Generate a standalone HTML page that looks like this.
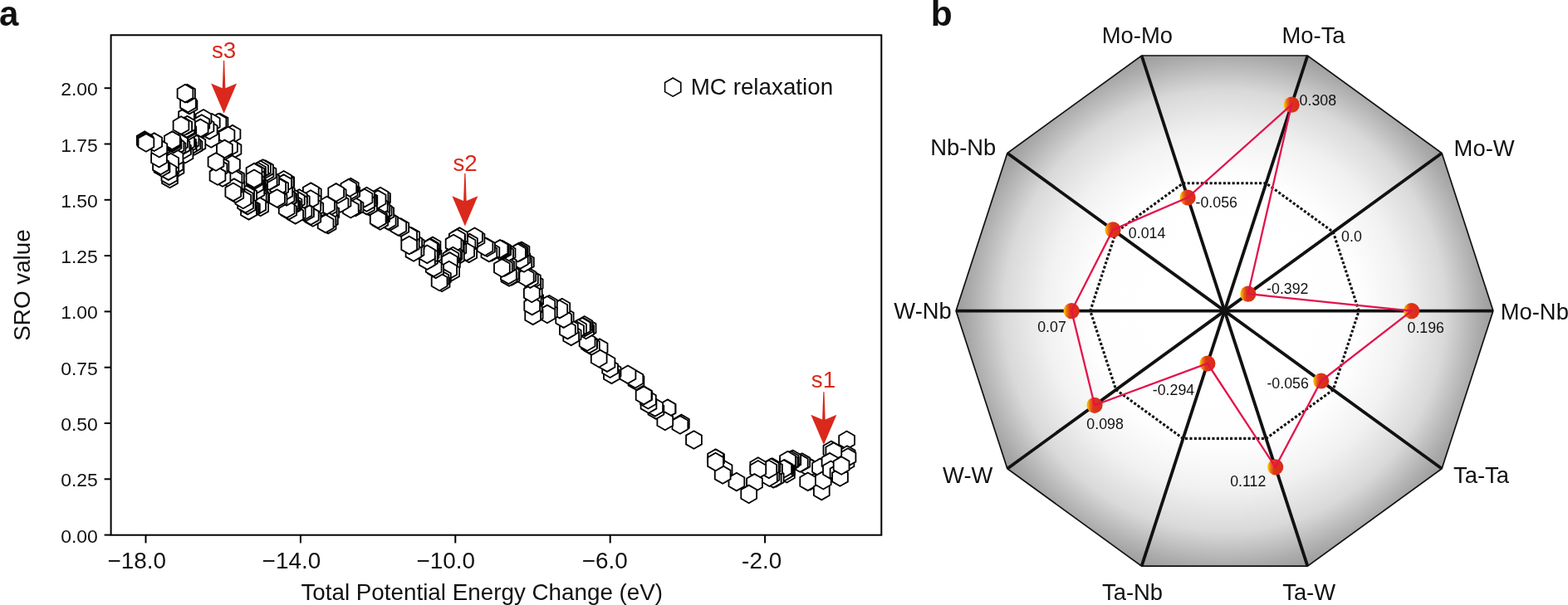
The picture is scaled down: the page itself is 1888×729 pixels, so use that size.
<!DOCTYPE html>
<html><head><meta charset="utf-8"><title>SRO figure</title><style>html,body{margin:0;padding:0;background:#fff;}body{width:1888px;height:729px;overflow:hidden;}svg{display:block;}</style></head><body>
<svg width="1888" height="729" viewBox="0 0 1888 729">
<defs>
<linearGradient id="ball" x1="0" y1="0" x2="1" y2="0"><stop offset="0" stop-color="#fcd200"/><stop offset="0.08" stop-color="#f6b008"/><stop offset="0.22" stop-color="#ea6e14"/><stop offset="0.4" stop-color="#dd3519"/><stop offset="1" stop-color="#da2a18"/></linearGradient>
<radialGradient id="rg" gradientUnits="userSpaceOnUse" cx="1474.5" cy="374.6" r="323.4"><stop offset="0" stop-color="#fff"/><stop offset="0.5" stop-color="#fefefe"/><stop offset="0.668" stop-color="#f1f1f1"/><stop offset="0.822" stop-color="#d9d9d9"/><stop offset="0.952" stop-color="#aaaaaa"/><stop offset="1" stop-color="#9c9c9c"/></radialGradient>
</defs>
<rect width="1888" height="729" fill="#fff"/>
<g font-family='"Liberation Sans", Arial, sans-serif' fill="#111">
<text x="-1.0" y="31" font-size="42" font-weight="bold">a</text>
<text x="1120.7" y="30.8" font-size="42.5" font-weight="bold">b</text>
</g>
<g fill="#fff" stroke="#000" stroke-width="1.80" stroke-linejoin="miter">
<polygon points="976.9,553.6 967.5,559.0 967.5,569.8 976.9,575.2 986.3,569.8 986.3,559.0"/>
<polygon points="975.7,568.5 966.3,573.9 966.3,584.7 975.7,590.1 985.1,584.7 985.1,573.9"/>
<polygon points="974.4,552.6 965.0,558.0 965.0,568.8 974.4,574.2 983.8,568.8 983.8,558.0"/>
<polygon points="972.7,569.5 963.3,574.9 963.3,585.7 972.7,591.1 982.1,585.7 982.1,574.9"/>
<polygon points="965.8,546.2 956.4,551.6 956.4,562.4 965.8,567.8 975.2,562.4 975.2,551.6"/>
<polygon points="963.3,547.2 953.9,552.6 953.9,563.4 963.3,568.8 972.7,563.4 972.7,552.6"/>
<polygon points="954.8,543.9 945.4,549.3 945.4,560.1 954.8,565.5 964.2,560.1 964.2,549.3"/>
<polygon points="954.7,542.5 945.3,547.9 945.3,558.7 954.7,564.1 964.1,558.7 964.1,547.9"/>
<polygon points="952.3,545.9 942.9,551.3 942.9,562.1 952.3,567.5 961.7,562.1 961.7,551.3"/>
<polygon points="952.2,543.5 942.8,548.9 942.8,559.7 952.2,565.1 961.6,559.7 961.6,548.9"/>
<polygon points="951.1,546.6 941.7,552.0 941.7,562.8 951.1,568.2 960.5,562.8 960.5,552.0"/>
<polygon points="951.0,545.8 941.6,551.2 941.6,562.0 951.0,567.4 960.4,562.0 960.4,551.2"/>
<polygon points="948.6,547.6 939.2,553.0 939.2,563.8 948.6,569.2 958.0,563.8 958.0,553.0"/>
<polygon points="948.5,543.8 939.1,549.2 939.1,560.0 948.5,565.4 957.9,560.0 957.9,549.2"/>
<polygon points="947.4,559.9 938.0,565.3 938.0,576.1 947.4,581.5 956.8,576.1 956.8,565.3"/>
<polygon points="947.3,556.1 937.9,561.5 937.9,572.3 947.3,577.7 956.7,572.3 956.7,561.5"/>
<polygon points="946.2,556.2 936.8,561.6 936.8,572.4 946.2,577.8 955.6,572.4 955.6,561.6"/>
<polygon points="944.8,554.1 935.4,559.5 935.4,570.3 944.8,575.7 954.2,570.3 954.2,559.5"/>
<polygon points="944.4,557.9 935.0,563.3 935.0,574.1 944.4,579.5 953.8,574.1 953.8,563.3"/>
<polygon points="943.7,554.2 934.3,559.6 934.3,570.4 943.7,575.8 953.1,570.4 953.1,559.6"/>
<polygon points="934.2,565.0 924.8,570.4 924.8,581.2 934.2,586.6 943.6,581.2 943.6,570.4"/>
<polygon points="932.5,554.4 923.1,559.8 923.1,570.6 932.5,576.0 941.9,570.6 941.9,559.8"/>
<polygon points="931.2,566.0 921.8,571.4 921.8,582.2 931.2,587.6 940.6,582.2 940.6,571.4"/>
<polygon points="930.0,552.4 920.6,557.8 920.6,568.6 930.0,574.0 939.4,568.6 939.4,557.8"/>
<polygon points="928.9,562.4 919.5,567.8 919.5,578.6 928.9,584.0 938.3,578.6 938.3,567.8"/>
<polygon points="928.3,552.5 918.9,557.9 918.9,568.7 928.3,574.1 937.7,568.7 937.7,557.9"/>
<polygon points="926.4,564.4 917.0,569.8 917.0,580.6 926.4,586.0 935.8,580.6 935.8,569.8"/>
<polygon points="925.8,554.5 916.4,559.9 916.4,570.7 925.8,576.1 935.2,570.7 935.2,559.9"/>
<polygon points="912.8,551.3 903.4,556.7 903.4,567.5 912.8,572.9 922.2,567.5 922.2,556.7"/>
<polygon points="912.8,555.0 903.4,560.4 903.4,571.2 912.8,576.6 922.2,571.2 922.2,560.4"/>
<polygon points="908.5,571.1 899.1,576.5 899.1,587.3 908.5,592.7 917.9,587.3 917.9,576.5"/>
<polygon points="901.7,584.6 892.3,590.0 892.3,600.8 901.7,606.2 911.1,600.8 911.1,590.0"/>
<polygon points="886.9,569.8 877.5,575.2 877.5,586.0 886.9,591.4 896.3,586.0 896.3,575.2"/>
<polygon points="872.1,555.0 862.7,560.4 862.7,571.2 872.1,576.6 881.5,571.2 881.5,560.4"/>
<polygon points="870.2,561.2 860.8,566.6 860.8,577.4 870.2,582.8 879.6,577.4 879.6,566.6"/>
<polygon points="862.6,541.8 853.2,547.2 853.2,558.0 862.6,563.4 872.0,558.0 872.0,547.2"/>
<polygon points="861.6,541.4 852.2,546.8 852.2,557.6 861.6,563.0 871.0,557.6 871.0,546.8"/>
<polygon points="861.6,545.7 852.2,551.1 852.2,561.9 861.6,567.3 871.0,561.9 871.0,551.1"/>
<polygon points="835.5,519.2 826.1,524.6 826.1,535.4 835.5,540.8 844.9,535.4 844.9,524.6"/>
<polygon points="820.4,499.6 811.0,505.0 811.0,515.8 820.4,521.2 829.8,515.8 829.8,505.0"/>
<polygon points="818.9,501.1 809.5,506.5 809.5,517.3 818.9,522.7 828.3,517.3 828.3,506.5"/>
<polygon points="804.1,481.5 794.7,486.9 794.7,497.7 804.1,503.1 813.5,497.7 813.5,486.9"/>
<polygon points="803.8,481.5 794.4,486.9 794.4,497.7 803.8,503.1 813.2,497.7 813.2,486.9"/>
<polygon points="800.8,496.6 791.4,502.0 791.4,512.8 800.8,518.2 810.2,512.8 810.2,502.0"/>
<polygon points="789.9,483.3 780.5,488.7 780.5,499.5 789.9,504.9 799.3,499.5 799.3,488.7"/>
<polygon points="788.7,480.0 779.3,485.4 779.3,496.2 788.7,501.6 798.1,496.2 798.1,485.4"/>
<polygon points="781.0,476.2 771.6,481.6 771.6,492.4 781.0,497.8 790.4,492.4 790.4,481.6"/>
<polygon points="780.4,470.9 771.0,476.3 771.0,487.1 780.4,492.5 789.8,487.1 789.8,476.3"/>
<polygon points="775.6,465.5 766.2,470.9 766.2,481.7 775.6,487.1 785.0,481.7 785.0,470.9"/>
<polygon points="775.1,465.6 765.7,471.0 765.7,481.8 775.1,487.2 784.5,481.8 784.5,471.0"/>
<polygon points="766.0,448.2 756.6,453.6 756.6,464.4 766.0,469.8 775.4,464.4 775.4,453.6"/>
<polygon points="764.9,445.9 755.5,451.3 755.5,462.1 764.9,467.5 774.3,462.1 774.3,451.3"/>
<polygon points="756.0,440.5 746.6,445.9 746.6,456.7 756.0,462.1 765.4,456.7 765.4,445.9"/>
<polygon points="738.1,437.0 728.7,442.4 728.7,453.2 738.1,458.6 747.5,453.2 747.5,442.4"/>
<polygon points="736.4,440.5 727.0,445.9 727.0,456.7 736.4,462.1 745.8,456.7 745.8,445.9"/>
<polygon points="734.6,433.4 725.2,438.8 725.2,449.6 734.6,455.0 744.0,449.6 744.0,438.8"/>
<polygon points="731.0,426.3 721.6,431.7 721.6,442.5 731.0,447.9 740.4,442.5 740.4,431.7"/>
<polygon points="722.1,408.4 712.7,413.8 712.7,424.6 722.1,430.0 731.5,424.6 731.5,413.8"/>
<polygon points="721.2,420.9 711.8,426.3 711.8,437.1 721.2,442.5 730.6,437.1 730.6,426.3"/>
<polygon points="712.4,406.0 703.0,411.4 703.0,422.2 712.4,427.6 721.8,422.2 721.8,411.4"/>
<polygon points="709.6,403.1 700.2,408.5 700.2,419.3 709.6,424.7 719.0,419.3 719.0,408.5"/>
<polygon points="709.4,404.0 700.0,409.4 700.0,420.2 709.4,425.6 718.8,420.2 718.8,409.4"/>
<polygon points="708.1,384.7 698.7,390.1 698.7,400.9 708.1,406.3 717.5,400.9 717.5,390.1"/>
<polygon points="707.1,401.1 697.7,406.5 697.7,417.3 707.1,422.7 716.5,417.3 716.5,406.5"/>
<polygon points="705.6,386.7 696.2,392.1 696.2,402.9 705.6,408.3 715.0,402.9 715.0,392.1"/>
<polygon points="704.3,383.5 694.9,388.9 694.9,399.7 704.3,405.1 713.7,399.7 713.7,388.9"/>
<polygon points="703.7,381.0 694.3,386.4 694.3,397.2 703.7,402.6 713.1,397.2 713.1,386.4"/>
<polygon points="701.8,382.5 692.4,387.9 692.4,398.7 701.8,404.1 711.2,398.7 711.2,387.9"/>
<polygon points="701.2,383.0 691.8,388.4 691.8,399.2 701.2,404.6 710.6,399.2 710.6,388.4"/>
<polygon points="696.6,385.0 687.2,390.4 687.2,401.2 696.6,406.6 706.0,401.2 706.0,390.4"/>
<polygon points="693.6,387.0 684.2,392.4 684.2,403.2 693.6,408.6 703.0,403.2 703.0,392.4"/>
<polygon points="690.2,392.5 680.8,397.9 680.8,408.7 690.2,414.1 699.6,408.7 699.6,397.9"/>
<polygon points="687.7,394.5 678.3,399.9 678.3,410.7 687.7,416.1 697.1,410.7 697.1,399.9"/>
<polygon points="686.4,384.8 677.0,390.2 677.0,401.0 686.4,406.4 695.8,401.0 695.8,390.2"/>
<polygon points="683.4,386.8 674.0,392.2 674.0,403.0 683.4,408.4 692.8,403.0 692.8,392.2"/>
<polygon points="681.2,371.3 671.8,376.7 671.8,387.5 681.2,392.9 690.6,387.5 690.6,376.7"/>
<polygon points="678.7,373.3 669.3,378.7 669.3,389.5 678.7,394.9 688.1,389.5 688.1,378.7"/>
<polygon points="676.8,359.8 667.4,365.2 667.4,376.0 676.8,381.4 686.2,376.0 686.2,365.2"/>
<polygon points="673.8,361.8 664.4,367.2 664.4,378.0 673.8,383.4 683.2,378.0 683.2,367.2"/>
<polygon points="661.4,356.0 652.0,361.4 652.0,372.2 661.4,377.6 670.8,372.2 670.8,361.4"/>
<polygon points="661.4,365.6 652.0,371.0 652.0,381.8 661.4,387.2 670.8,381.8 670.8,371.0"/>
<polygon points="658.9,357.0 649.5,362.4 649.5,373.2 658.9,378.6 668.3,373.2 668.3,362.4"/>
<polygon points="658.9,367.6 649.5,373.0 649.5,383.8 658.9,389.2 668.3,383.8 668.3,373.0"/>
<polygon points="644.7,350.2 635.3,355.6 635.3,366.4 644.7,371.8 654.1,366.4 654.1,355.6"/>
<polygon points="644.2,331.0 634.8,336.4 634.8,347.2 644.2,352.6 653.6,347.2 653.6,336.4"/>
<polygon points="644.2,367.5 634.8,372.9 634.8,383.7 644.2,389.1 653.6,383.7 653.6,372.9"/>
<polygon points="643.3,343.6 633.9,349.0 633.9,359.8 643.3,365.2 652.7,359.8 652.7,349.0"/>
<polygon points="643.2,359.8 633.8,365.2 633.8,376.0 643.2,381.4 652.6,376.0 652.6,365.2"/>
<polygon points="642.2,352.2 632.8,357.6 632.8,368.4 642.2,373.8 651.6,368.4 651.6,357.6"/>
<polygon points="641.7,332.0 632.3,337.4 632.3,348.2 641.7,353.6 651.1,348.2 651.1,337.4"/>
<polygon points="641.7,369.5 632.3,374.9 632.3,385.7 641.7,391.1 651.1,385.7 651.1,374.9"/>
<polygon points="641.4,326.3 632.0,331.7 632.0,342.5 641.4,347.9 650.8,342.5 650.8,331.7"/>
<polygon points="640.7,357.8 631.3,363.2 631.3,374.0 640.7,379.4 650.1,374.0 650.1,363.2"/>
<polygon points="640.3,342.6 630.9,348.0 630.9,358.8 640.3,364.2 649.7,358.8 649.7,348.0"/>
<polygon points="638.4,325.3 629.0,330.7 629.0,341.5 638.4,346.9 647.8,341.5 647.8,330.7"/>
<polygon points="635.8,322.4 626.4,327.8 626.4,338.6 635.8,344.0 645.2,338.6 645.2,327.8"/>
<polygon points="633.4,305.1 624.0,310.5 624.0,321.3 633.4,326.7 642.8,321.3 642.8,310.5"/>
<polygon points="633.3,323.4 623.9,328.8 623.9,339.6 633.3,345.0 642.7,339.6 642.7,328.8"/>
<polygon points="630.9,306.1 621.5,311.5 621.5,322.3 630.9,327.7 640.3,322.3 640.3,311.5"/>
<polygon points="628.8,300.3 619.4,305.7 619.4,316.5 628.8,321.9 638.2,316.5 638.2,305.7"/>
<polygon points="628.0,291.6 618.6,297.0 618.6,307.8 628.0,313.2 637.4,307.8 637.4,297.0"/>
<polygon points="626.3,302.3 616.9,307.7 616.9,318.5 626.3,323.9 635.7,318.5 635.7,307.7"/>
<polygon points="626.0,292.8 616.6,298.2 616.6,309.0 626.0,314.4 635.4,309.0 635.4,298.2"/>
<polygon points="625.0,292.6 615.6,298.0 615.6,308.8 625.0,314.2 634.4,308.8 634.4,298.0"/>
<polygon points="623.5,293.8 614.1,299.2 614.1,310.0 623.5,315.4 632.9,310.0 632.9,299.2"/>
<polygon points="616.0,322.2 606.6,327.6 606.6,338.4 616.0,343.8 625.4,338.4 625.4,327.6"/>
<polygon points="615.4,319.5 606.0,324.9 606.0,335.7 615.4,341.1 624.8,335.7 624.8,324.9"/>
<polygon points="613.0,323.2 603.6,328.6 603.6,339.4 613.0,344.8 622.4,339.4 622.4,328.6"/>
<polygon points="612.4,320.5 603.0,325.9 603.0,336.7 612.4,342.1 621.8,336.7 621.8,325.9"/>
<polygon points="612.1,307.9 602.7,313.3 602.7,324.1 612.1,329.5 621.5,324.1 621.5,313.3"/>
<polygon points="611.1,294.0 601.7,299.4 601.7,310.2 611.1,315.6 620.5,310.2 620.5,299.4"/>
<polygon points="609.6,309.9 600.2,315.3 600.2,326.1 609.6,331.5 619.0,326.1 619.0,315.3"/>
<polygon points="608.6,295.0 599.2,300.4 599.2,311.2 608.6,316.6 618.0,311.2 618.0,300.4"/>
<polygon points="607.4,311.1 598.0,316.5 598.0,327.3 607.4,332.7 616.8,327.3 616.8,316.5"/>
<polygon points="605.8,290.7 596.4,296.1 596.4,306.9 605.8,312.3 615.2,306.9 615.2,296.1"/>
<polygon points="605.0,290.1 595.6,295.5 595.6,306.3 605.0,311.7 614.4,306.3 614.4,295.5"/>
<polygon points="604.4,312.1 595.0,317.5 595.0,328.3 604.4,333.7 613.8,328.3 613.8,317.5"/>
<polygon points="603.3,289.7 593.9,295.1 593.9,305.9 603.3,311.3 612.7,305.9 612.7,295.1"/>
<polygon points="602.0,289.1 592.6,294.5 592.6,305.3 602.0,310.7 611.4,305.3 611.4,294.5"/>
<polygon points="591.9,292.8 582.5,298.2 582.5,309.0 591.9,314.4 601.3,309.0 601.3,298.2"/>
<polygon points="588.9,293.8 579.5,299.2 579.5,310.0 588.9,315.4 598.3,310.0 598.3,299.2"/>
<polygon points="586.5,287.4 577.1,292.8 577.1,303.6 586.5,309.0 595.9,303.6 595.9,292.8"/>
<polygon points="584.0,286.4 574.6,291.8 574.6,302.6 584.0,308.0 593.4,302.6 593.4,291.8"/>
<polygon points="574.0,276.5 564.6,281.9 564.6,292.7 574.0,298.1 583.4,292.7 583.4,281.9"/>
<polygon points="571.5,274.5 562.1,279.9 562.1,290.7 571.5,296.1 580.9,290.7 580.9,279.9"/>
<polygon points="565.5,281.9 556.1,287.3 556.1,298.1 565.5,303.5 574.9,298.1 574.9,287.3"/>
<polygon points="564.7,294.5 555.3,299.9 555.3,310.7 564.7,316.1 574.1,310.7 574.1,299.9"/>
<polygon points="563.0,283.9 553.6,289.3 553.6,300.1 563.0,305.5 572.4,300.1 572.4,289.3"/>
<polygon points="561.7,292.5 552.3,297.9 552.3,308.7 561.7,314.1 571.1,308.7 571.1,297.9"/>
<polygon points="553.6,276.7 544.2,282.1 544.2,292.9 553.6,298.3 563.0,292.9 563.0,282.1"/>
<polygon points="553.3,274.4 543.9,279.8 543.9,290.6 553.3,296.0 562.7,290.6 562.7,279.8"/>
<polygon points="551.9,288.6 542.5,294.0 542.5,304.8 551.9,310.2 561.3,304.8 561.3,294.0"/>
<polygon points="550.6,277.7 541.2,283.1 541.2,293.9 550.6,299.3 560.0,293.9 560.0,283.1"/>
<polygon points="550.3,276.4 540.9,281.8 540.9,292.6 550.3,298.0 559.7,292.6 559.7,281.8"/>
<polygon points="549.4,287.6 540.0,293.0 540.0,303.8 549.4,309.2 558.8,303.8 558.8,293.0"/>
<polygon points="549.4,298.2 540.0,303.6 540.0,314.4 549.4,319.8 558.8,314.4 558.8,303.6"/>
<polygon points="548.6,284.7 539.2,290.1 539.2,300.9 548.6,306.3 558.0,300.9 558.0,290.1"/>
<polygon points="546.9,296.2 537.5,301.6 537.5,312.4 546.9,317.8 556.3,312.4 556.3,301.6"/>
<polygon points="546.1,282.7 536.7,288.1 536.7,298.9 546.1,304.3 555.5,298.9 555.5,288.1"/>
<polygon points="545.4,297.8 536.0,303.2 536.0,314.0 545.4,319.4 554.8,314.0 554.8,303.2"/>
<polygon points="544.4,306.1 535.0,311.5 535.0,322.3 544.4,327.7 553.8,322.3 553.8,311.5"/>
<polygon points="543.7,316.8 534.3,322.2 534.3,333.0 543.7,338.4 553.1,333.0 553.1,322.2"/>
<polygon points="542.9,299.8 533.5,305.2 533.5,316.0 542.9,321.4 552.3,316.0 552.3,305.2"/>
<polygon points="541.4,304.1 532.0,309.5 532.0,320.3 541.4,325.7 550.8,320.3 550.8,309.5"/>
<polygon points="540.7,314.8 531.3,320.2 531.3,331.0 540.7,336.4 550.1,331.0 550.1,320.2"/>
<polygon points="533.4,323.9 524.0,329.3 524.0,340.1 533.4,345.5 542.8,340.1 542.8,329.3"/>
<polygon points="532.1,329.6 522.7,335.0 522.7,345.8 532.1,351.2 541.5,345.8 541.5,335.0"/>
<polygon points="530.9,325.9 521.5,331.3 521.5,342.1 530.9,347.5 540.3,342.1 540.3,331.3"/>
<polygon points="529.1,328.6 519.7,334.0 519.7,344.8 529.1,350.2 538.5,344.8 538.5,334.0"/>
<polygon points="524.7,313.5 515.3,318.9 515.3,329.7 524.7,335.1 534.1,329.7 534.1,318.9"/>
<polygon points="522.2,311.5 512.8,316.9 512.8,327.7 522.2,333.1 531.6,327.7 531.6,316.9"/>
<polygon points="522.0,296.6 512.6,302.0 512.6,312.8 522.0,318.2 531.4,312.8 531.4,302.0"/>
<polygon points="521.0,285.6 511.6,291.0 511.6,301.8 521.0,307.2 530.4,301.8 530.4,291.0"/>
<polygon points="520.4,290.0 511.0,295.4 511.0,306.2 520.4,311.6 529.8,306.2 529.8,295.4"/>
<polygon points="519.0,294.6 509.6,300.0 509.6,310.8 519.0,316.2 528.4,310.8 528.4,300.0"/>
<polygon points="518.5,287.6 509.1,293.0 509.1,303.8 518.5,309.2 527.9,303.8 527.9,293.0"/>
<polygon points="517.4,288.0 508.0,293.4 508.0,304.2 517.4,309.6 526.8,304.2 526.8,293.4"/>
<polygon points="517.4,301.2 508.0,306.6 508.0,317.4 517.4,322.8 526.8,317.4 526.8,306.6"/>
<polygon points="517.3,297.5 507.9,302.9 507.9,313.7 517.3,319.1 526.7,313.7 526.7,302.9"/>
<polygon points="514.4,303.2 505.0,308.6 505.0,319.4 514.4,324.8 523.8,319.4 523.8,308.6"/>
<polygon points="514.3,295.5 504.9,300.9 504.9,311.7 514.3,317.1 523.7,311.7 523.7,300.9"/>
<polygon points="501.2,283.9 491.8,289.3 491.8,300.1 501.2,305.5 510.6,300.1 510.6,289.3"/>
<polygon points="501.0,291.2 491.6,296.6 491.6,307.4 501.0,312.8 510.4,307.4 510.4,296.6"/>
<polygon points="498.7,281.9 489.3,287.3 489.3,298.1 498.7,303.5 508.1,298.1 508.1,287.3"/>
<polygon points="498.0,293.2 488.6,298.6 488.6,309.4 498.0,314.8 507.4,309.4 507.4,298.6"/>
<polygon points="495.7,274.2 486.3,279.6 486.3,290.4 495.7,295.8 505.1,290.4 505.1,279.6"/>
<polygon points="495.2,283.7 485.8,289.1 485.8,299.9 495.2,305.3 504.6,299.9 504.6,289.1"/>
<polygon points="492.7,273.2 483.3,278.6 483.3,289.4 492.7,294.8 502.1,289.4 502.1,278.6"/>
<polygon points="492.7,284.7 483.3,290.1 483.3,300.9 492.7,306.3 502.1,300.9 502.1,290.1"/>
<polygon points="482.8,263.3 473.4,268.7 473.4,279.5 482.8,284.9 492.2,279.5 492.2,268.7"/>
<polygon points="479.8,262.3 470.4,267.7 470.4,278.5 479.8,283.9 489.2,278.5 489.2,267.7"/>
<polygon points="469.7,256.0 460.3,261.4 460.3,272.2 469.7,277.6 479.1,272.2 479.1,261.4"/>
<polygon points="467.2,255.0 457.8,260.4 457.8,271.2 467.2,276.6 476.6,271.2 476.6,260.4"/>
<polygon points="464.7,245.2 455.3,250.6 455.3,261.4 464.7,266.8 474.1,261.4 474.1,250.6"/>
<polygon points="462.2,243.2 452.8,248.6 452.8,259.4 462.2,264.8 471.6,259.4 471.6,248.6"/>
<polygon points="460.5,227.8 451.1,233.2 451.1,244.0 460.5,249.4 469.9,244.0 469.9,233.2"/>
<polygon points="459.8,238.6 450.4,244.0 450.4,254.8 459.8,260.2 469.2,254.8 469.2,244.0"/>
<polygon points="459.5,250.8 450.1,256.2 450.1,267.0 459.5,272.4 468.9,267.0 468.9,256.2"/>
<polygon points="458.1,230.4 448.7,235.8 448.7,246.6 458.1,252.0 467.5,246.6 467.5,235.8"/>
<polygon points="458.0,225.8 448.6,231.2 448.6,242.0 458.0,247.4 467.4,242.0 467.4,231.2"/>
<polygon points="457.7,255.2 448.3,260.6 448.3,271.4 457.7,276.8 467.1,271.4 467.1,260.6"/>
<polygon points="457.3,237.6 447.9,243.0 447.9,253.8 457.3,259.2 466.7,253.8 466.7,243.0"/>
<polygon points="456.5,251.8 447.1,257.2 447.1,268.0 456.5,273.4 465.9,268.0 465.9,257.2"/>
<polygon points="455.2,253.2 445.8,258.6 445.8,269.4 455.2,274.8 464.6,269.4 464.6,258.6"/>
<polygon points="455.1,229.4 445.7,234.8 445.7,245.6 455.1,251.0 464.5,245.6 464.5,234.8"/>
<polygon points="444.9,230.4 435.5,235.8 435.5,246.6 444.9,252.0 454.3,246.6 454.3,235.8"/>
<polygon points="444.5,237.8 435.1,243.2 435.1,254.0 444.5,259.4 453.9,254.0 453.9,243.2"/>
<polygon points="444.0,231.2 434.6,236.6 434.6,247.4 444.0,252.8 453.4,247.4 453.4,236.6"/>
<polygon points="442.4,229.4 433.0,234.8 433.0,245.6 442.4,251.0 451.8,245.6 451.8,234.8"/>
<polygon points="441.5,225.8 432.1,231.2 432.1,242.0 441.5,247.4 450.9,242.0 450.9,231.2"/>
<polygon points="441.5,236.8 432.1,242.2 432.1,253.0 441.5,258.4 450.9,253.0 450.9,242.2"/>
<polygon points="441.5,233.2 432.1,238.6 432.1,249.4 441.5,254.8 450.9,249.4 450.9,238.6"/>
<polygon points="439.0,227.8 429.6,233.2 429.6,244.0 439.0,249.4 448.4,244.0 448.4,233.2"/>
<polygon points="428.0,238.8 418.6,244.2 418.6,255.0 428.0,260.4 437.4,255.0 437.4,244.2"/>
<polygon points="425.3,238.9 415.9,244.3 415.9,255.1 425.3,260.5 434.7,255.1 434.7,244.3"/>
<polygon points="425.0,236.8 415.6,242.2 415.6,253.0 425.0,258.4 434.4,253.0 434.4,242.2"/>
<polygon points="423.7,220.4 414.3,225.8 414.3,236.6 423.7,242.0 433.1,236.6 433.1,225.8"/>
<polygon points="422.3,214.9 412.9,220.3 412.9,231.1 422.3,236.5 431.7,231.1 431.7,220.3"/>
<polygon points="422.3,240.9 412.9,246.3 412.9,257.1 422.3,262.5 431.7,257.1 431.7,246.3"/>
<polygon points="421.2,219.4 411.8,224.8 411.8,235.6 421.2,241.0 430.6,235.6 430.6,224.8"/>
<polygon points="419.8,215.9 410.4,221.3 410.4,232.1 419.8,237.5 429.2,232.1 429.2,221.3"/>
<polygon points="413.0,232.1 403.6,237.5 403.6,248.3 413.0,253.7 422.4,248.3 422.4,237.5"/>
<polygon points="410.0,234.1 400.6,239.5 400.6,250.3 410.0,255.7 419.4,250.3 419.4,239.5"/>
<polygon points="407.2,223.1 397.8,228.5 397.8,239.3 407.2,244.7 416.6,239.3 416.6,228.5"/>
<polygon points="404.7,221.1 395.3,226.5 395.3,237.3 404.7,242.7 414.1,237.3 414.1,226.5"/>
<polygon points="398.7,245.7 389.3,251.1 389.3,261.9 398.7,267.3 408.1,261.9 408.1,251.1"/>
<polygon points="397.4,254.0 388.0,259.4 388.0,270.2 397.4,275.6 406.8,270.2 406.8,259.4"/>
<polygon points="396.2,243.7 386.8,249.1 386.8,259.9 396.2,265.3 405.6,259.9 405.6,249.1"/>
<polygon points="396.0,238.8 386.6,244.2 386.6,255.0 396.0,260.4 405.4,255.0 405.4,244.2"/>
<polygon points="395.1,259.8 385.7,265.2 385.7,276.0 395.1,281.4 404.5,276.0 404.5,265.2"/>
<polygon points="394.9,256.0 385.5,261.4 385.5,272.2 394.9,277.6 404.3,272.2 404.3,261.4"/>
<polygon points="393.5,236.8 384.1,242.2 384.1,253.0 393.5,258.4 402.9,253.0 402.9,242.2"/>
<polygon points="392.1,258.8 382.7,264.2 382.7,275.0 392.1,280.4 401.5,275.0 401.5,264.2"/>
<polygon points="379.8,239.6 370.4,245.0 370.4,255.8 379.8,261.2 389.2,255.8 389.2,245.0"/>
<polygon points="377.3,222.4 367.9,227.8 367.9,238.6 377.3,244.0 386.7,238.6 386.7,227.8"/>
<polygon points="377.0,231.3 367.6,236.7 367.6,247.5 377.0,252.9 386.4,247.5 386.4,236.7"/>
<polygon points="376.8,251.2 367.4,256.6 367.4,267.4 376.8,272.8 386.2,267.4 386.2,256.6"/>
<polygon points="376.8,237.6 367.4,243.0 367.4,253.8 376.8,259.2 386.2,253.8 386.2,243.0"/>
<polygon points="374.3,220.4 364.9,225.8 364.9,236.6 374.3,242.0 383.7,236.6 383.7,225.8"/>
<polygon points="374.3,249.2 364.9,254.6 364.9,265.4 374.3,270.8 383.7,265.4 383.7,254.6"/>
<polygon points="374.0,229.3 364.6,234.7 364.6,245.5 374.0,250.9 383.4,245.5 383.4,234.7"/>
<polygon points="368.5,244.7 359.1,250.1 359.1,260.9 368.5,266.3 377.9,260.9 377.9,250.1"/>
<polygon points="366.0,243.7 356.6,249.1 356.6,259.9 366.0,265.3 375.4,259.9 375.4,249.1"/>
<polygon points="363.3,231.3 353.9,236.7 353.9,247.5 363.3,252.9 372.7,247.5 372.7,236.7"/>
<polygon points="360.3,228.2 350.9,233.6 350.9,244.4 360.3,249.8 369.7,244.4 369.7,233.6"/>
<polygon points="360.3,232.3 350.9,237.7 350.9,248.5 360.3,253.9 369.7,248.5 369.7,237.7"/>
<polygon points="358.2,246.0 348.8,251.4 348.8,262.2 358.2,267.6 367.6,262.2 367.6,251.4"/>
<polygon points="357.3,230.2 347.9,235.6 347.9,246.4 357.3,251.8 366.7,246.4 366.7,235.6"/>
<polygon points="355.7,248.0 346.3,253.4 346.3,264.2 355.7,269.6 365.1,264.2 365.1,253.4"/>
<polygon points="354.0,234.8 344.6,240.2 344.6,251.0 354.0,256.4 363.4,251.0 363.4,240.2"/>
<polygon points="352.3,237.2 342.9,242.6 342.9,253.4 352.3,258.8 361.7,253.4 361.7,242.6"/>
<polygon points="351.0,236.8 341.6,242.2 341.6,253.0 351.0,258.4 360.4,253.0 360.4,242.2"/>
<polygon points="349.8,235.2 340.4,240.6 340.4,251.4 349.8,256.8 359.2,251.4 359.2,240.6"/>
<polygon points="349.6,225.8 340.2,231.2 340.2,242.0 349.6,247.4 359.0,242.0 359.0,231.2"/>
<polygon points="347.7,243.0 338.3,248.4 338.3,259.2 347.7,264.6 357.1,259.2 357.1,248.4"/>
<polygon points="347.5,228.2 338.1,233.6 338.1,244.4 347.5,249.8 356.9,244.4 356.9,233.6"/>
<polygon points="347.1,227.8 337.7,233.2 337.7,244.0 347.1,249.4 356.5,244.0 356.5,233.2"/>
<polygon points="345.2,221.2 335.8,226.6 335.8,237.4 345.2,242.8 354.6,237.4 354.6,226.6"/>
<polygon points="345.2,241.0 335.8,246.4 335.8,257.2 345.2,262.6 354.6,257.2 354.6,246.4"/>
<polygon points="345.0,226.2 335.6,231.6 335.6,242.4 345.0,247.8 354.4,242.4 354.4,231.6"/>
<polygon points="344.7,208.0 335.3,213.4 335.3,224.2 344.7,229.6 354.1,224.2 354.1,213.4"/>
<polygon points="344.1,209.4 334.7,214.8 334.7,225.6 344.1,231.0 353.5,225.6 353.5,214.8"/>
<polygon points="342.7,220.2 333.3,225.6 333.3,236.4 342.7,241.8 352.1,236.4 352.1,225.6"/>
<polygon points="341.7,206.0 332.3,211.4 332.3,222.2 341.7,227.6 351.1,222.2 351.1,211.4"/>
<polygon points="341.6,210.4 332.2,215.8 332.2,226.6 341.6,232.0 351.0,226.6 351.0,215.8"/>
<polygon points="337.7,215.2 328.3,220.6 328.3,231.4 337.7,236.8 347.1,231.4 347.1,220.6"/>
<polygon points="336.0,229.2 326.6,234.6 326.6,245.4 336.0,250.8 345.4,245.4 345.4,234.6"/>
<polygon points="334.7,214.2 325.3,219.6 325.3,230.4 334.7,235.8 344.1,230.4 344.1,219.6"/>
<polygon points="333.5,228.2 324.1,233.6 324.1,244.4 333.5,249.8 342.9,244.4 342.9,233.6"/>
<polygon points="326.7,206.2 317.3,211.6 317.3,222.4 326.7,227.8 336.1,222.4 336.1,211.6"/>
<polygon points="324.2,207.2 314.8,212.6 314.8,223.4 324.2,228.8 333.6,223.4 333.6,212.6"/>
<polygon points="323.0,197.9 313.6,203.3 313.6,214.1 323.0,219.5 332.4,214.1 332.4,203.3"/>
<polygon points="320.0,196.9 310.6,202.3 310.6,213.1 320.0,218.5 329.4,213.1 329.4,202.3"/>
<polygon points="319.5,193.2 310.1,198.6 310.1,209.4 319.5,214.8 328.9,209.4 328.9,198.6"/>
<polygon points="316.5,192.2 307.1,197.6 307.1,208.4 316.5,213.8 325.9,208.4 325.9,197.6"/>
<polygon points="313.8,226.2 304.4,231.6 304.4,242.4 313.8,247.8 323.2,242.4 323.2,231.6"/>
<polygon points="313.7,238.7 304.3,244.1 304.3,254.9 313.7,260.3 323.1,254.9 323.1,244.1"/>
<polygon points="313.6,193.8 304.2,199.2 304.2,210.0 313.6,215.4 323.0,210.0 323.0,199.2"/>
<polygon points="312.7,212.7 303.3,218.1 303.3,228.9 312.7,234.3 322.1,228.9 322.1,218.1"/>
<polygon points="311.8,217.0 302.4,222.4 302.4,233.2 311.8,238.6 321.2,233.2 321.2,222.4"/>
<polygon points="311.3,228.2 301.9,233.6 301.9,244.4 311.3,249.8 320.7,244.4 320.7,233.6"/>
<polygon points="310.7,236.7 301.3,242.1 301.3,252.9 310.7,258.3 320.1,252.9 320.1,242.1"/>
<polygon points="310.6,195.8 301.2,201.2 301.2,212.0 310.6,217.4 320.0,212.0 320.0,201.2"/>
<polygon points="310.2,210.7 300.8,216.1 300.8,226.9 310.2,232.3 319.6,226.9 319.6,216.1"/>
<polygon points="310.2,214.2 300.8,219.6 300.8,230.4 310.2,235.8 319.6,230.4 319.6,219.6"/>
<polygon points="309.0,197.9 299.6,203.3 299.6,214.1 309.0,219.5 318.4,214.1 318.4,203.3"/>
<polygon points="309.0,202.5 299.6,207.9 299.6,218.7 309.0,224.1 318.4,218.7 318.4,207.9"/>
<polygon points="308.8,208.3 299.4,213.7 299.4,224.5 308.8,229.9 318.2,224.5 318.2,213.7"/>
<polygon points="308.8,219.0 299.4,224.4 299.4,235.2 308.8,240.6 318.2,235.2 318.2,224.4"/>
<polygon points="307.7,212.2 298.3,217.6 298.3,228.4 307.7,233.8 317.1,228.4 317.1,217.6"/>
<polygon points="306.3,206.3 296.9,211.7 296.9,222.5 306.3,227.9 315.7,222.5 315.7,211.7"/>
<polygon points="306.0,196.9 296.6,202.3 296.6,213.1 306.0,218.5 315.4,213.1 315.4,202.3"/>
<polygon points="306.0,204.5 296.6,209.9 296.6,220.7 306.0,226.1 315.4,220.7 315.4,209.9"/>
<polygon points="303.4,240.3 294.0,245.7 294.0,256.5 303.4,261.9 312.8,256.5 312.8,245.7"/>
<polygon points="302.0,241.0 292.6,246.4 292.6,257.2 302.0,262.6 311.4,257.2 311.4,246.4"/>
<polygon points="300.4,242.3 291.0,247.7 291.0,258.5 300.4,263.9 309.8,258.5 309.8,247.7"/>
<polygon points="299.7,224.7 290.3,230.1 290.3,240.9 299.7,246.3 309.1,240.9 309.1,230.1"/>
<polygon points="299.5,243.0 290.1,248.4 290.1,259.2 299.5,264.6 308.9,259.2 308.9,248.4"/>
<polygon points="298.1,236.8 288.7,242.2 288.7,253.0 298.1,258.4 307.5,253.0 307.5,242.2"/>
<polygon points="296.7,223.7 287.3,229.1 287.3,239.9 296.7,245.3 306.1,239.9 306.1,229.1"/>
<polygon points="295.6,234.8 286.2,240.2 286.2,251.0 295.6,256.4 305.0,251.0 305.0,240.2"/>
<polygon points="295.3,227.6 285.9,233.0 285.9,243.8 295.3,249.2 304.7,243.8 304.7,233.0"/>
<polygon points="292.8,229.6 283.4,235.0 283.4,245.8 292.8,251.2 302.2,245.8 302.2,235.0"/>
<polygon points="285.0,213.4 275.6,218.8 275.6,229.6 285.0,235.0 294.4,229.6 294.4,218.8"/>
<polygon points="284.5,203.7 275.1,209.1 275.1,219.9 284.5,225.3 293.9,219.9 293.9,209.1"/>
<polygon points="283.8,222.5 274.4,227.9 274.4,238.7 283.8,244.1 293.2,238.7 293.2,227.9"/>
<polygon points="282.0,204.7 272.6,210.1 272.6,220.9 282.0,226.3 291.4,220.9 291.4,210.1"/>
<polygon points="282.0,215.4 272.6,220.8 272.6,231.6 282.0,237.0 291.4,231.6 291.4,220.8"/>
<polygon points="280.8,220.5 271.4,225.9 271.4,236.7 280.8,242.1 290.2,236.7 290.2,225.9"/>
<polygon points="1019.6,519.5 1010.2,524.9 1010.2,535.7 1019.6,541.1 1029.0,535.7 1029.0,524.9"/>
<polygon points="1019.0,545.9 1009.6,551.3 1009.6,562.1 1019.0,567.5 1028.4,562.1 1028.4,551.3"/>
<polygon points="1020.1,537.2 1010.7,542.6 1010.7,553.4 1020.1,558.8 1029.5,553.4 1029.5,542.6"/>
<polygon points="1021.0,540.2 1011.6,545.6 1011.6,556.4 1021.0,561.8 1030.4,556.4 1030.4,545.6"/>
<polygon points="987.5,552.6 978.1,558.0 978.1,568.8 987.5,574.2 996.9,568.8 996.9,558.0"/>
<polygon points="989.3,580.8 979.9,586.2 979.9,597.0 989.3,602.4 998.7,597.0 998.7,586.2"/>
<polygon points="991.3,567.9 981.9,573.3 981.9,584.1 991.3,589.5 1000.7,584.1 1000.7,573.3"/>
<polygon points="1000.9,531.5 991.5,536.9 991.5,547.7 1000.9,553.1 1010.3,547.7 1010.3,536.9"/>
<polygon points="1003.8,533.4 994.4,538.8 994.4,549.6 1003.8,555.0 1013.2,549.6 1013.2,538.8"/>
<polygon points="999.0,545.9 989.6,551.3 989.6,562.1 999.0,567.5 1008.4,562.1 1008.4,551.3"/>
<polygon points="1000.4,555.5 991.0,560.9 991.0,571.7 1000.4,577.1 1009.8,571.7 1009.8,560.9"/>
<polygon points="1009.0,559.2 999.6,564.6 999.6,575.4 1009.0,580.8 1018.4,575.4 1018.4,564.6"/>
<polygon points="1011.5,564.2 1002.1,569.6 1002.1,580.4 1011.5,585.8 1020.9,580.4 1020.9,569.6"/>
<polygon points="1013.1,550.2 1003.7,555.6 1003.7,566.4 1013.1,571.8 1022.5,566.4 1022.5,555.6"/>
<polygon points="281.0,169.2 271.6,174.6 271.6,185.4 281.0,190.8 290.4,185.4 290.4,174.6"/>
<polygon points="280.0,150.9 270.6,156.3 270.6,167.1 280.0,172.5 289.4,167.1 289.4,156.3"/>
<polygon points="279.5,187.4 270.1,192.8 270.1,203.6 279.5,209.0 288.9,203.6 288.9,192.8"/>
<polygon points="276.5,166.6 267.1,172.0 267.1,182.8 276.5,188.2 285.9,182.8 285.9,172.0"/>
<polygon points="273.0,151.8 263.6,157.2 263.6,168.0 273.0,173.4 282.4,168.0 282.4,157.2"/>
<polygon points="270.4,168.6 261.0,174.0 261.0,184.8 270.4,190.2 279.8,184.8 279.8,174.0"/>
<polygon points="268.0,203.2 258.6,208.6 258.6,219.4 268.0,224.8 277.4,219.4 277.4,208.6"/>
<polygon points="266.0,189.2 256.6,194.6 256.6,205.4 266.0,210.8 275.4,205.4 275.4,194.6"/>
<polygon points="265.0,136.7 255.6,142.1 255.6,152.9 265.0,158.3 274.4,152.9 274.4,142.1"/>
<polygon points="264.0,192.2 254.6,197.6 254.6,208.4 264.0,213.8 273.4,208.4 273.4,197.6"/>
<polygon points="263.0,136.7 253.6,142.1 253.6,152.9 263.0,158.3 272.4,152.9 272.4,142.1"/>
<polygon points="262.0,201.2 252.6,206.6 252.6,217.4 262.0,222.8 271.4,217.4 271.4,206.6"/>
<polygon points="260.0,184.2 250.6,189.6 250.6,200.4 260.0,205.8 269.4,200.4 269.4,189.6"/>
<polygon points="255.3,137.0 245.9,142.4 245.9,153.2 255.3,158.6 264.7,153.2 264.7,142.4"/>
<polygon points="254.3,156.1 244.9,161.5 244.9,172.3 254.3,177.7 263.7,172.3 263.7,161.5"/>
<polygon points="252.2,146.0 242.8,151.4 242.8,162.2 252.2,167.6 261.6,162.2 261.6,151.4"/>
<polygon points="248.0,141.8 238.6,147.2 238.6,158.0 248.0,163.4 257.4,158.0 257.4,147.2"/>
<polygon points="245.0,132.0 235.6,137.4 235.6,148.2 245.0,153.6 254.4,148.2 254.4,137.4"/>
<polygon points="242.8,138.2 233.4,143.6 233.4,154.4 242.8,159.8 252.2,154.4 252.2,143.6"/>
<polygon points="241.2,143.6 231.8,149.0 231.8,159.8 241.2,165.2 250.6,159.8 250.6,149.0"/>
<polygon points="237.9,162.7 228.5,168.1 228.5,178.9 237.9,184.3 247.3,178.9 247.3,168.1"/>
<polygon points="234.0,165.2 224.6,170.6 224.6,181.4 234.0,186.8 243.4,181.4 243.4,170.6"/>
<polygon points="232.0,163.2 222.6,168.6 222.6,179.4 232.0,184.8 241.4,179.4 241.4,168.6"/>
<polygon points="230.0,159.2 220.6,164.6 220.6,175.4 230.0,180.8 239.4,175.4 239.4,164.6"/>
<polygon points="227.2,166.0 217.8,171.4 217.8,182.2 227.2,187.6 236.6,182.2 236.6,171.4"/>
<polygon points="226.5,162.7 217.1,168.1 217.1,178.9 226.5,184.3 235.9,178.9 235.9,168.1"/>
<polygon points="224.7,160.5 215.3,165.9 215.3,176.7 224.7,182.1 234.1,176.7 234.1,165.9"/>
<polygon points="224.5,134.2 215.1,139.6 215.1,150.4 224.5,155.8 233.9,150.4 233.9,139.6"/>
<polygon points="224.5,129.2 215.1,134.6 215.1,145.4 224.5,150.8 233.9,145.4 233.9,134.6"/>
<polygon points="226.8,147.2 217.4,152.6 217.4,163.4 226.8,168.8 236.2,163.4 236.2,152.6"/>
<polygon points="225.5,145.0 216.1,150.4 216.1,161.2 225.5,166.6 234.9,161.2 234.9,150.4"/>
<polygon points="224.7,144.0 215.3,149.4 215.3,160.2 224.7,165.6 234.1,160.2 234.1,149.4"/>
<polygon points="225.5,139.9 216.1,145.3 216.1,156.1 225.5,161.5 234.9,156.1 234.9,145.3"/>
<polygon points="228.0,115.8 218.6,121.2 218.6,132.0 228.0,137.4 237.4,132.0 237.4,121.2"/>
<polygon points="226.5,113.7 217.1,119.1 217.1,129.9 226.5,135.3 235.9,129.9 235.9,119.1"/>
<polygon points="225.5,101.8 216.1,107.2 216.1,118.0 225.5,123.4 234.9,118.0 234.9,107.2"/>
<polygon points="223.0,101.8 213.6,107.2 213.6,118.0 223.0,123.4 232.4,118.0 232.4,107.2"/>
<polygon points="223.0,174.9 213.6,180.3 213.6,191.1 223.0,196.5 232.4,191.1 232.4,180.3"/>
<polygon points="221.7,141.5 212.3,146.9 212.3,157.7 221.7,163.1 231.1,157.7 231.1,146.9"/>
<polygon points="220.5,169.9 211.1,175.3 211.1,186.1 220.5,191.5 229.9,186.1 229.9,175.3"/>
<polygon points="218.9,165.2 209.5,170.6 209.5,181.4 218.9,186.8 228.3,181.4 228.3,170.6"/>
<polygon points="218.0,140.3 208.6,145.7 208.6,156.5 218.0,161.9 227.4,156.5 227.4,145.7"/>
<polygon points="216.5,161.3 207.1,166.7 207.1,177.5 216.5,182.9 225.9,177.5 225.9,166.7"/>
<polygon points="214.0,167.2 204.6,172.6 204.6,183.4 214.0,188.8 223.4,183.4 223.4,172.6"/>
<polygon points="212.0,165.2 202.6,170.6 202.6,181.4 212.0,186.8 221.4,181.4 221.4,170.6"/>
<polygon points="212.0,192.2 202.6,197.6 202.6,208.4 212.0,213.8 221.4,208.4 221.4,197.6"/>
<polygon points="211.0,188.2 201.6,193.6 201.6,204.4 211.0,209.8 220.4,204.4 220.4,193.6"/>
<polygon points="211.0,179.2 201.6,184.6 201.6,195.4 211.0,200.8 220.4,195.4 220.4,184.6"/>
<polygon points="209.0,162.5 199.6,167.9 199.6,178.7 209.0,184.1 218.4,178.7 218.4,167.9"/>
<polygon points="208.2,160.5 198.8,165.9 198.8,176.7 208.2,182.1 217.6,176.7 217.6,165.9"/>
<polygon points="207.7,159.3 198.3,164.7 198.3,175.5 207.7,180.9 217.1,175.5 217.1,164.7"/>
<polygon points="207.4,158.4 198.0,163.8 198.0,174.6 207.4,180.0 216.8,174.6 216.8,163.8"/>
<polygon points="205.7,193.4 196.3,198.8 196.3,209.6 205.7,215.0 215.1,209.6 215.1,198.8"/>
<polygon points="205.7,184.8 196.3,190.2 196.3,201.0 205.7,206.4 215.1,201.0 215.1,190.2"/>
<polygon points="204.5,204.7 195.1,210.1 195.1,220.9 204.5,226.3 213.9,220.9 213.9,210.1"/>
<polygon points="203.9,201.3 194.5,206.7 194.5,217.5 203.9,222.9 213.3,217.5 213.3,206.7"/>
<polygon points="202.8,195.3 193.4,200.7 193.4,211.5 202.8,216.9 212.2,211.5 212.2,200.7"/>
<polygon points="195.0,191.2 185.6,196.6 185.6,207.4 195.0,212.8 204.4,207.4 204.4,196.6"/>
<polygon points="193.5,188.7 184.1,194.1 184.1,204.9 193.5,210.3 202.9,204.9 202.9,194.1"/>
<polygon points="191.5,179.9 182.1,185.3 182.1,196.1 191.5,201.5 200.9,196.1 200.9,185.3"/>
<polygon points="191.8,167.9 182.4,173.3 182.4,184.1 191.8,189.5 201.2,184.1 201.2,173.3"/>
<polygon points="185.7,160.4 176.3,165.8 176.3,176.6 185.7,182.0 195.1,176.6 195.1,165.8"/>
<polygon points="174.2,158.4 164.8,163.8 164.8,174.6 174.2,180.0 183.6,174.6 183.6,163.8"/>
<polygon points="175.0,159.7 165.6,165.1 165.6,175.9 175.0,181.3 184.4,175.9 184.4,165.1"/>
<polygon points="175.9,161.1 166.5,166.5 166.5,177.3 175.9,182.7 185.3,177.3 185.3,166.5"/>
</g>
<rect x="133.6" y="42.3" width="927.7" height="602.4" fill="none" stroke="#000" stroke-width="2"/>
<g stroke="#000" stroke-width="2">
<line x1="125.6" y1="644.6" x2="133.6" y2="644.6"/>
<line x1="125.6" y1="577.3" x2="133.6" y2="577.3"/>
<line x1="125.6" y1="510.0" x2="133.6" y2="510.0"/>
<line x1="125.6" y1="442.7" x2="133.6" y2="442.7"/>
<line x1="125.6" y1="375.4" x2="133.6" y2="375.4"/>
<line x1="125.6" y1="308.1" x2="133.6" y2="308.1"/>
<line x1="125.6" y1="240.8" x2="133.6" y2="240.8"/>
<line x1="125.6" y1="173.5" x2="133.6" y2="173.5"/>
<line x1="125.6" y1="106.2" x2="133.6" y2="106.2"/>
<line x1="175.5" y1="644.7" x2="175.5" y2="654.4"/>
<line x1="361.9" y1="644.7" x2="361.9" y2="654.4"/>
<line x1="548.3" y1="644.7" x2="548.3" y2="654.4"/>
<line x1="734.7" y1="644.7" x2="734.7" y2="654.4"/>
<line x1="921.1" y1="644.7" x2="921.1" y2="654.4"/>
</g>
<g font-family='"Liberation Sans", Arial, sans-serif' fill="#111">
<text x="73.2" y="653.6" font-size="22.9">0.00</text>
<text x="73.2" y="586.3" font-size="22.9">0.25</text>
<text x="73.2" y="519.0" font-size="22.9">0.50</text>
<text x="73.2" y="451.7" font-size="22.9">0.75</text>
<text x="73.2" y="384.4" font-size="22.9">1.00</text>
<text x="73.2" y="317.1" font-size="22.9">1.25</text>
<text x="73.2" y="249.8" font-size="22.9">1.50</text>
<text x="73.2" y="182.5" font-size="22.9">1.75</text>
<text x="73.2" y="115.2" font-size="22.9">2.00</text>
<text x="129.4" y="684.7" font-size="27.9">−18.0</text>
<text x="315.6" y="684.7" font-size="27.9">−14.0</text>
<text x="501.5" y="684.7" font-size="27.9">−10.0</text>
<text x="700.7" y="684.7" font-size="27.9">−6.0</text>
<text x="893.1" y="684.7" font-size="27.9">-2.0</text>
<text x="362.4" y="722.6" font-size="27.8">Total Potential Energy Change (eV)</text>
<text transform="translate(36.1,343.5) rotate(-90)" font-size="27.8" text-anchor="middle">SRO value</text>
<text x="831.7" y="114.0" font-size="27.8">MC relaxation</text>
</g>
<polygon points="810.2,94.0 800.6,99.5 800.6,110.6 810.2,116.2 819.8,110.7 819.8,99.5" fill="#fff" stroke="#000" stroke-width="1.6"/>
<polygon points="269.0,73.0 270.2,73.0 271.4,106.2 285.1,100.4 269.6,136.8 254.1,100.4 267.8,106.2" fill="#da291c"/>
<polygon points="559.3,208.8 560.5,208.8 561.7,242.0 575.4,236.2 559.9,272.6 544.4,236.2 558.1,242.0" fill="#da291c"/>
<polygon points="991.3,472.3 992.5,472.3 993.7,505.5 1007.4,499.7 991.9,536.1 976.4,499.7 990.1,505.5" fill="#da291c"/>
<g font-family='"Liberation Sans", Arial, sans-serif' fill="#da291c">
<text x="254.9" y="70.2" font-size="27.8">s3</text>
<text x="545.4" y="205.9" font-size="27.8">s2</text>
<text x="976.8" y="467.3" font-size="27.8">s1</text>
</g>
<polygon points="1797.9,374.6 1736.1,184.5 1574.4,67.0 1374.6,67.0 1212.9,184.5 1151.1,374.6 1212.9,564.7 1374.6,682.2 1574.4,682.2 1736.1,564.7" fill="url(#rg)"/>
<polygon points="1797.9,374.6 1736.1,184.5 1574.4,67.0 1374.6,67.0 1212.9,184.5 1151.1,374.6 1212.9,564.7 1374.6,682.2 1574.4,682.2 1736.1,564.7" fill="none" stroke="#111" stroke-width="1.7" stroke-linejoin="miter"/>
<polygon points="1636.2,374.6 1605.3,279.6 1524.5,220.8 1424.5,220.8 1343.7,279.6 1312.8,374.6 1343.7,469.6 1424.5,528.4 1524.5,528.4 1605.3,469.6" fill="none" stroke="#111" stroke-width="3.1" stroke-dasharray="3.1 2.3"/>
<g stroke="#111" stroke-width="3.8" stroke-linecap="butt">
<line x1="1474.5" y1="374.6" x2="1797.9" y2="374.6"/>
<line x1="1474.5" y1="374.6" x2="1736.1" y2="184.5"/>
<line x1="1474.5" y1="374.6" x2="1574.4" y2="67.0"/>
<line x1="1474.5" y1="374.6" x2="1374.6" y2="67.0"/>
<line x1="1474.5" y1="374.6" x2="1212.9" y2="184.5"/>
<line x1="1474.5" y1="374.6" x2="1151.1" y2="374.6"/>
<line x1="1474.5" y1="374.6" x2="1212.9" y2="564.7"/>
<line x1="1474.5" y1="374.6" x2="1374.6" y2="682.2"/>
<line x1="1474.5" y1="374.6" x2="1574.4" y2="682.2"/>
<line x1="1474.5" y1="374.6" x2="1736.1" y2="564.7"/>
</g>
<circle cx="1474.5" cy="374.6" r="3" fill="#111"/>
<circle cx="1699.6" cy="374.6" r="9.6" fill="url(#ball)"/>
<circle cx="1502.8" cy="354.1" r="9.6" fill="url(#ball)"/>
<circle cx="1555.2" cy="126.1" r="9.6" fill="url(#ball)"/>
<circle cx="1430.1" cy="238.0" r="9.6" fill="url(#ball)"/>
<circle cx="1340.0" cy="276.9" r="9.6" fill="url(#ball)"/>
<circle cx="1290.2" cy="374.6" r="9.6" fill="url(#ball)"/>
<circle cx="1318.0" cy="488.3" r="9.6" fill="url(#ball)"/>
<circle cx="1453.9" cy="438.0" r="9.6" fill="url(#ball)"/>
<circle cx="1535.7" cy="562.8" r="9.6" fill="url(#ball)"/>
<circle cx="1590.7" cy="459.0" r="9.6" fill="url(#ball)"/>
<polygon points="1699.6,374.6 1502.8,354.1 1555.2,126.1 1430.1,238.0 1340.0,276.9 1290.2,374.6 1318.0,488.3 1453.9,438.0 1535.7,562.8 1590.7,459.0" fill="none" stroke="#e3134b" stroke-width="2.3" stroke-linejoin="miter"/>
<g font-family='"Liberation Sans", Arial, sans-serif' fill="#111">
<text x="1694.5" y="401.1" font-size="17.8">0.196</text>
<text x="1525.1" y="354.4" font-size="17.8">-0.392</text>
<text x="1564.6" y="126.6" font-size="17.8">0.308</text>
<text x="1439.5" y="250.4" font-size="17.8">-0.056</text>
<text x="1358.8" y="287.0" font-size="17.8">0.014</text>
<text x="1249.2" y="400.0" font-size="17.8">0.07</text>
<text x="1308.3" y="517.3" font-size="17.8">0.098</text>
<text x="1387.8" y="476.1" font-size="17.8">-0.294</text>
<text x="1481.2" y="585.7" font-size="17.8">0.112</text>
<text x="1525.4" y="468.3" font-size="17.8">-0.056</text>
<text x="1615.1" y="291.0" font-size="17.8">0.0</text>
</g>
<g font-family='"Liberation Sans", Arial, sans-serif' fill="#111">
<text x="1326.8" y="52.3" font-size="27.4">Mo-Mo</text>
<text x="1543.5" y="52.3" font-size="27.4">Mo-Ta</text>
<text x="1750.6" y="187.6" font-size="27.4">Mo-W</text>
<text x="1120.2" y="187.0" font-size="27.4">Nb-Nb</text>
<text x="1076.3" y="384.2" font-size="27.4">W-Nb</text>
<text x="1806.7" y="384.6" font-size="27.4">Mo-Nb</text>
<text x="1135.1" y="581.7" font-size="27.4">W-W</text>
<text x="1750.0" y="581.7" font-size="27.4">Ta-Ta</text>
<text x="1327.0" y="722.8" font-size="27.4">Ta-Nb</text>
<text x="1544.2" y="722.8" font-size="27.4">Ta-W</text>
</g>
</svg>
</body></html>
